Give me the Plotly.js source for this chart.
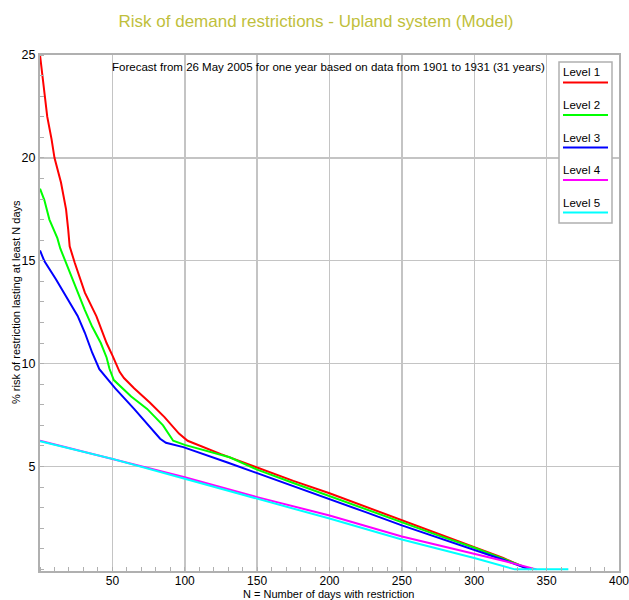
<!DOCTYPE html>
<html><head><meta charset="utf-8">
<script src="https://cdn.plot.ly/plotly-3.0.1.min.js"></script>
<style>html,body{margin:0;padding:0;background:#fff;}</style>
</head><body>
<div id="chart" style="width:629px;height:600px;"></div>
<script>
// ---- data ----
const seriesNames = ['Level 1', 'Level 2', 'Level 3', 'Level 4', 'Level 5'];
const seriesColors = ['#ff0000', '#00ff00', '#0000ff', '#ff00ff', '#00ffff'];

const level1X = [0, 5, 8, 10, 14.5, 18, 19.5, 20.5, 24, 31, 39, 46, 50, 55, 58, 65, 76, 86, 96, 102, 125, 150, 175, 200, 225, 250, 275, 300, 320, 338];
const level1Y = [25, 22.0, 20.9, 20.0, 18.8, 17.5, 16.5, 15.7, 14.9, 13.45, 12.3, 11.0, 10.4, 9.6, 9.3, 8.8, 8.1, 7.4, 6.6, 6.25, 5.6, 4.95, 4.3, 3.7, 3.05, 2.4, 1.75, 1.1, 0.55, 0];

const level2X = [0, 3, 6.5, 12, 14, 18, 25, 31, 36, 42, 46, 48, 51, 63, 74, 85, 92, 100, 131, 150, 175, 200, 225, 250, 275, 300, 320, 339];
const level2Y = [18.5, 17.95, 17.0, 16.1, 15.6, 14.9, 13.6, 12.6, 11.8, 11.0, 10.3, 9.75, 9.2, 8.4, 7.8, 7.0, 6.25, 6.05, 5.45, 4.85, 4.2, 3.56, 2.92, 2.27, 1.65, 1.05, 0.5, 0];

const level3X = [0, 3, 11, 19, 26, 31, 36, 41, 46, 52, 65, 75, 83, 87, 99, 130, 150, 175, 200, 225, 250, 275, 300, 320, 338];
const level3Y = [15.5, 14.98, 14.1, 13.13, 12.32, 11.5, 10.54, 9.73, 9.3, 8.8, 7.8, 7.0, 6.35, 6.15, 5.94, 5.18, 4.68, 4.05, 3.40, 2.78, 2.14, 1.55, 0.95, 0.47, 0];

const level4X = [0, 50, 100, 150, 179, 200, 250, 300, 320, 343];
const level4Y = [6.25, 5.38, 4.48, 3.51, 2.98, 2.62, 1.6, 0.78, 0.42, 0];

const level5X = [0, 50, 100, 150, 179, 200, 250, 300, 328, 365];
const level5Y = [6.23, 5.37, 4.40, 3.43, 2.88, 2.47, 1.45, 0.55, 0, 0];

const xTickVals = [50, 100, 150, 200, 250, 300, 350, 400];
const yTickVals = [5, 10, 15, 20, 25];

const chartTitle = 'Risk of demand restrictions - Upland system (Model)';
const subTitle = 'Forecast from 26 May 2005 for one year based on data from 1901 to 1931 (31 years)';
const xTitle = 'N = Number of days with restriction';
const yTitle = '% risk of restriction lasting at least N days';

// ---- chart ----
const FONT = 'Liberation Sans, Arial, sans-serif';
const xs = [level1X, level2X, level3X, level4X, level5X];
const ys = [level1Y, level2Y, level3Y, level4Y, level5Y];

const traces = seriesNames.map((n, i) => ({
  type: 'scatter', mode: 'lines', name: n,
  x: xs[i], y: ys[i],
  line: {color: seriesColors[i], width: 2},
  showlegend: false, hoverinfo: 'skip'
}));

// plot area in pixels
const L = 40, R = 619, T = 55, B = 571;
const px = p => (p - L) / (R - L);
const py = p => (B - p) / (B - T);

const GRID = '#c4c4c4', LINE = '#b0b0b0';

const shapes = [
  {type: 'rect', xref: 'paper', yref: 'paper', x0: px(559), x1: px(612), y0: py(223), y1: py(62),
   line: {color: LINE, width: 1.5}, fillcolor: '#ffffff', layer: 'above'}
];
const annotations = [
  {text: subTitle, xref: 'paper', yref: 'paper', x: px(328), y: py(67), xanchor: 'center', yanchor: 'middle',
   showarrow: false, font: {size: 11.5, color: '#000'}},
  {text: xTitle, xref: 'paper', yref: 'paper', x: px(328), y: py(594), xanchor: 'center', yanchor: 'middle',
   showarrow: false, font: {size: 11, color: '#000'}},
  {text: yTitle, xref: 'paper', yref: 'paper', x: px(16), y: py(302), xanchor: 'center', yanchor: 'middle',
   textangle: -90, showarrow: false, font: {size: 11, color: '#000'}}
];
seriesNames.forEach((n, i) => {
  const ty = 72 + i * 32.8, ly = 82.5 + i * 32.5;
  annotations.push({text: n, xref: 'paper', yref: 'paper', x: px(561), y: py(ty), xanchor: 'left', yanchor: 'middle',
    showarrow: false, font: {size: 11.5, color: '#000'}});
  shapes.push({type: 'line', xref: 'paper', yref: 'paper', x0: px(563), x1: px(608), y0: py(ly), y1: py(ly),
    line: {color: seriesColors[i], width: 2}, layer: 'above'});
});

const layout = {
  width: 629, height: 600,
  margin: {l: L, r: 629 - R, t: T, b: 600 - B, pad: 0},
  paper_bgcolor: '#ffffff', plot_bgcolor: '#ffffff',
  font: {family: FONT, size: 12, color: '#000'},
  title: {text: chartTitle, xref: 'container', yref: 'container', x: 316 / 629, y: 1 - 21 / 600,
          xanchor: 'center', yanchor: 'middle', font: {size: 17, color: '#bfbf3c', family: FONT}},
  xaxis: {range: [0, 400], tickmode: 'array', tickvals: xTickVals, ticks: '',
          showgrid: true, gridcolor: GRID, gridwidth: 1.5, zeroline: false,
          showline: true, linecolor: LINE, linewidth: 2, mirror: true,
          ticklabeloverflow: 'allow', ticklabelstandoff: -2,
          tickfont: {size: 12, color: '#000'},
          minor: {tickmode: 'linear', tick0: 0, dtick: 10, ticks: 'inside', ticklen: 4, tickcolor: LINE, tickwidth: 1, showgrid: false}},
  yaxis: {range: [-0.08, 25], tickmode: 'array', tickvals: yTickVals, ticks: '',
          showgrid: true, gridcolor: GRID, gridwidth: 1.5, zeroline: false,
          showline: true, linecolor: LINE, linewidth: 2, mirror: true,
          tickfont: {size: 12.5, color: '#000'},
          minor: {tickmode: 'linear', tick0: 0, dtick: 1, ticks: 'inside', ticklen: 4, tickcolor: LINE, tickwidth: 1, showgrid: false}},
  shapes: shapes,
  annotations: annotations
};

Plotly.newPlot('chart', traces, layout, {displayModeBar: false, staticPlot: true});
</script>
</body></html>
